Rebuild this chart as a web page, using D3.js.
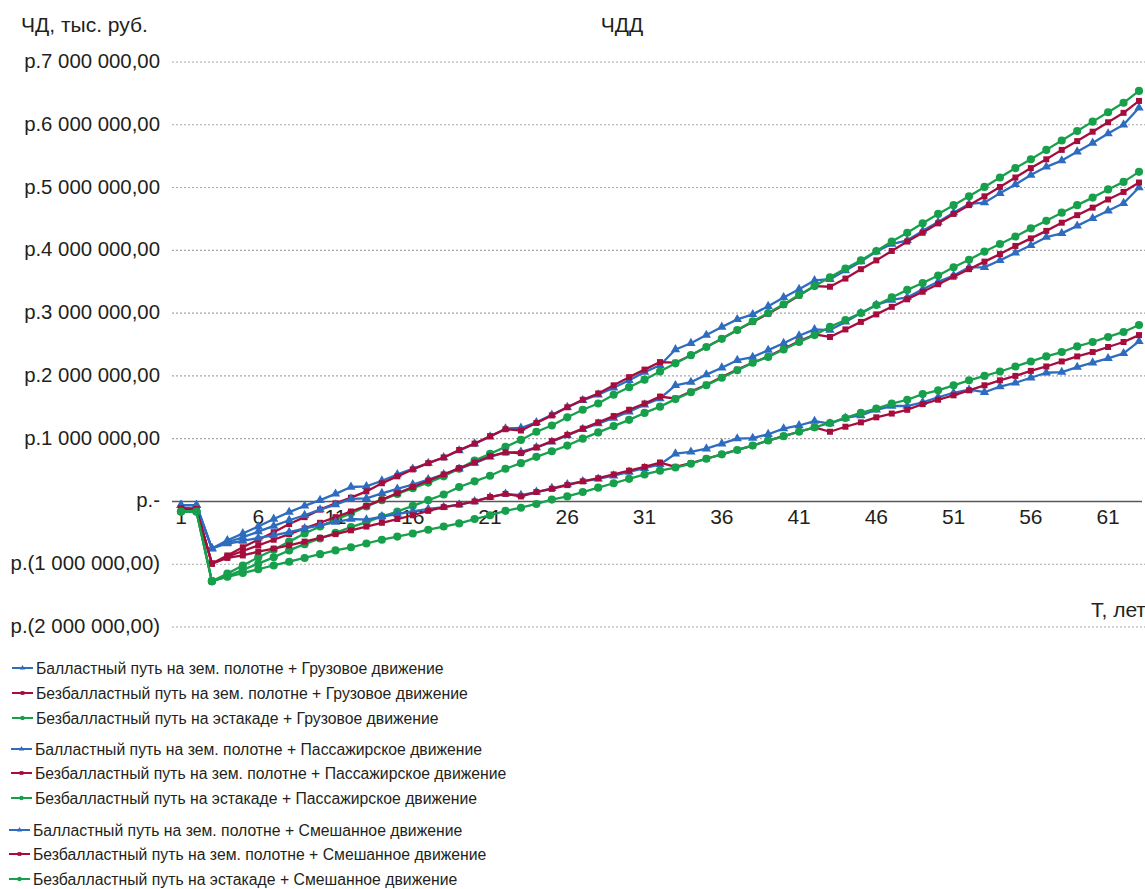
<!DOCTYPE html>
<html lang="ru">
<head>
<meta charset="utf-8">
<title>ЧДД</title>
<script src="https://cdn.jsdelivr.net/npm/d3@7"></script>
<style>
  html, body { margin: 0; padding: 0; background: #ffffff; }
  svg { display: block; }
</style>
</head>
<body>
<div id="chart"></div>
<script>
// values in millions of rubles, years 1..63
const years = d3.range(1, 64);
const xTicks = [1, 6, 11, 16, 21, 26, 31, 36, 41, 46, 51, 56, 61];
const yTicks = [-2, -1, 0, 1, 2, 3, 4, 5, 6, 7];

const freightBallast = [-0.06, -0.06, -0.75, -0.62, -0.51, -0.40, -0.28, -0.17, -0.07, 0.02, 0.12, 0.23, 0.24, 0.33, 0.43, 0.52, 0.61, 0.70, 0.81, 0.92, 1.03, 1.16, 1.17, 1.26, 1.38, 1.50, 1.61, 1.70, 1.81, 1.93, 2.06, 2.17, 2.42, 2.52, 2.65, 2.78, 2.90, 2.98, 3.11, 3.25, 3.38, 3.52, 3.54, 3.68, 3.82, 3.98, 4.10, 4.16, 4.31, 4.45, 4.60, 4.74, 4.76, 4.91, 5.05, 5.20, 5.33, 5.43, 5.57, 5.71, 5.86, 6.00, 6.27];
const freightSlab = [-0.11, -0.12, -0.99, -0.86, -0.73, -0.61, -0.49, -0.36, -0.25, -0.13, -0.03, 0.06, 0.16, 0.29, 0.40, 0.51, 0.61, 0.70, 0.82, 0.92, 1.04, 1.15, 1.13, 1.25, 1.37, 1.50, 1.62, 1.72, 1.85, 1.98, 2.10, 2.22, 2.21, 2.33, 2.46, 2.59, 2.73, 2.86, 2.99, 3.13, 3.28, 3.43, 3.42, 3.55, 3.70, 3.84, 3.99, 4.14, 4.28, 4.43, 4.58, 4.72, 4.86, 5.01, 5.16, 5.31, 5.45, 5.60, 5.74, 5.89, 6.04, 6.19, 6.38];
const freightViaduct = [-0.16, -0.16, -1.27, -1.15, -1.02, -0.89, -0.77, -0.64, -0.51, -0.40, -0.29, -0.19, -0.08, 0.02, 0.12, 0.21, 0.30, 0.40, 0.52, 0.65, 0.76, 0.87, 0.98, 1.11, 1.21, 1.34, 1.46, 1.56, 1.70, 1.82, 1.94, 2.07, 2.20, 2.33, 2.46, 2.59, 2.73, 2.87, 3.00, 3.14, 3.29, 3.43, 3.57, 3.71, 3.84, 3.99, 4.14, 4.28, 4.43, 4.58, 4.72, 4.86, 5.01, 5.16, 5.31, 5.45, 5.60, 5.75, 5.90, 6.05, 6.20, 6.35, 6.54];

const passBallast = [-0.06, -0.06, -0.75, -0.65, -0.57, -0.48, -0.39, -0.30, -0.22, -0.13, -0.05, 0.04, 0.05, 0.13, 0.20, 0.27, 0.35, 0.43, 0.52, 0.61, 0.71, 0.78, 0.79, 0.86, 0.95, 1.05, 1.15, 1.24, 1.33, 1.43, 1.54, 1.64, 1.85, 1.90, 2.02, 2.13, 2.25, 2.30, 2.41, 2.52, 2.64, 2.74, 2.73, 2.86, 3.00, 3.13, 3.21, 3.25, 3.38, 3.50, 3.60, 3.73, 3.73, 3.84, 3.96, 4.08, 4.21, 4.27, 4.39, 4.51, 4.63, 4.75, 5.00];
const passSlab = [-0.11, -0.12, -0.99, -0.88, -0.79, -0.70, -0.61, -0.52, -0.43, -0.34, -0.25, -0.16, -0.07, 0.03, 0.13, 0.23, 0.33, 0.43, 0.53, 0.62, 0.72, 0.78, 0.77, 0.86, 0.96, 1.06, 1.16, 1.26, 1.36, 1.46, 1.56, 1.67, 1.64, 1.75, 1.86, 1.98, 2.10, 2.21, 2.31, 2.43, 2.55, 2.66, 2.62, 2.74, 2.86, 2.98, 3.10, 3.22, 3.34, 3.46, 3.58, 3.70, 3.82, 3.94, 4.07, 4.19, 4.31, 4.44, 4.56, 4.68, 4.81, 4.93, 5.08];
const passViaduct = [-0.16, -0.16, -1.27, -1.19, -1.09, -0.99, -0.89, -0.78, -0.68, -0.59, -0.50, -0.41, -0.33, -0.24, -0.16, -0.07, 0.02, 0.11, 0.23, 0.32, 0.41, 0.52, 0.61, 0.71, 0.80, 0.89, 1.00, 1.10, 1.20, 1.30, 1.41, 1.51, 1.63, 1.74, 1.85, 1.97, 2.09, 2.21, 2.30, 2.42, 2.54, 2.65, 2.78, 2.89, 3.00, 3.13, 3.25, 3.37, 3.48, 3.60, 3.73, 3.85, 3.98, 4.10, 4.22, 4.35, 4.47, 4.60, 4.72, 4.84, 4.97, 5.09, 5.25];

const mixBallast = [-0.06, -0.06, -0.75, -0.67, -0.63, -0.58, -0.54, -0.49, -0.43, -0.38, -0.33, -0.28, -0.29, -0.24, -0.20, -0.16, -0.12, -0.09, -0.05, 0.00, 0.07, 0.12, 0.10, 0.15, 0.21, 0.27, 0.32, 0.36, 0.41, 0.47, 0.53, 0.59, 0.76, 0.79, 0.84, 0.92, 1.00, 1.01, 1.07, 1.16, 1.21, 1.28, 1.24, 1.33, 1.37, 1.46, 1.52, 1.52, 1.58, 1.66, 1.73, 1.78, 1.74, 1.83, 1.89, 1.97, 2.05, 2.06, 2.14, 2.21, 2.28, 2.36, 2.55];
const mixSlab = [-0.11, -0.12, -0.99, -0.90, -0.86, -0.80, -0.75, -0.70, -0.64, -0.58, -0.52, -0.46, -0.40, -0.34, -0.28, -0.22, -0.15, -0.09, -0.05, 0.00, 0.07, 0.12, 0.08, 0.15, 0.20, 0.26, 0.32, 0.37, 0.43, 0.49, 0.55, 0.62, 0.55, 0.61, 0.68, 0.75, 0.82, 0.89, 0.97, 1.04, 1.11, 1.18, 1.11, 1.19, 1.26, 1.34, 1.40, 1.46, 1.55, 1.62, 1.69, 1.77, 1.85, 1.93, 2.00, 2.08, 2.15, 2.23, 2.31, 2.38, 2.46, 2.54, 2.65];
const mixViaduct = [-0.16, -0.16, -1.27, -1.20, -1.14, -1.08, -1.02, -0.96, -0.90, -0.84, -0.78, -0.73, -0.67, -0.61, -0.56, -0.51, -0.45, -0.40, -0.35, -0.28, -0.22, -0.15, -0.10, -0.04, 0.03, 0.08, 0.15, 0.22, 0.29, 0.36, 0.43, 0.49, 0.54, 0.60, 0.68, 0.75, 0.82, 0.89, 0.97, 1.04, 1.11, 1.18, 1.25, 1.33, 1.41, 1.48, 1.56, 1.62, 1.71, 1.77, 1.85, 1.93, 2.00, 2.07, 2.15, 2.23, 2.31, 2.38, 2.47, 2.54, 2.62, 2.70, 2.81];

const trackNames = ["Балластный путь на зем. полотне", "Безбалластный путь на зем. полотне", "Безбалластный путь на эстакаде"];
const trafficNames = ["Грузовое движение", "Пассажирское движение", "Смешанное движение"];

const FONT = '"Liberation Sans", Arial, sans-serif';
const TEXT_COLOR = "#231f20";
const COLORS = ["#2d6cbf", "#a50d3d", "#17a04c"];
const SYMBOLS = [d3.symbolTriangle, d3.symbolSquare, d3.symbolCircle];
const MARKER_SIZE = [38, 36, 52];
const LEGEND_MARKER_SIZE = [12, 14, 16];

const series = [
  { values: freightBallast, track: 0, traffic: 0 },
  { values: freightSlab, track: 1, traffic: 0 },
  { values: freightViaduct, track: 2, traffic: 0 },
  { values: passBallast, track: 0, traffic: 1 },
  { values: passSlab, track: 1, traffic: 1 },
  { values: passViaduct, track: 2, traffic: 1 },
  { values: mixBallast, track: 0, traffic: 2 },
  { values: mixSlab, track: 1, traffic: 2 },
  { values: mixViaduct, track: 2, traffic: 2 },
];

const WIDTH = 1145;
const HEIGHT = 889;
const PLOT = { left: 172, right: 1145, top: 62, bottom: 627 };

const rub = d3.formatLocale({ decimal: ",", thousands: " ", grouping: [3], currency: ["", ""] }).format(",.2f");
function rubLabel(v) {
  if (v === 0) return "р.-";
  if (v < 0) return `р.(${rub(-v * 1e6)})`;
  return `р.${rub(v * 1e6)}`;
}

// scale a text group so that its reference node is as wide as in the source picture
function fitWidth(sel, refNode, targetWidth, baseSize) {
  const w = refNode.getComputedTextLength();
  const size = w > 0 ? (baseSize * targetWidth) / w : baseSize;
  sel.attr("font-size", Math.min(size, baseSize * 1.2));
}

const svg = d3
  .select("#chart")
  .append("svg")
  .attr("width", WIDTH)
  .attr("height", HEIGHT)
  .attr("viewBox", `0 0 ${WIDTH} ${HEIGHT}`)
  .attr("font-family", FONT)
  .attr("fill", TEXT_COLOR);

const x = d3.scalePoint().domain(years).range([181, 1139]);
const y = d3.scaleLinear().domain([-2, 7]).range([PLOT.bottom, PLOT.top]);

// gridlines
svg
  .append("g")
  .attr("class", "grid")
  .selectAll("line")
  .data(yTicks.filter((d) => d !== 0))
  .join("line")
  .attr("x1", PLOT.left)
  .attr("x2", PLOT.right)
  .attr("y1", (d) => y(d))
  .attr("y2", (d) => y(d))
  .attr("stroke", "#a6a6a6")
  .attr("stroke-width", 1.1)
  .attr("stroke-dasharray", "2,2");

// y labels
const yLabels = svg
  .append("g")
  .attr("class", "y-labels")
  .selectAll("text")
  .data(yTicks)
  .join("text")
  .attr("x", 160)
  .attr("y", (d) => y(d) + 6)
  .attr("text-anchor", "end")
  .attr("font-size", 20)
  .text(rubLabel);
fitWidth(yLabels, yLabels.filter((d) => d === 7).node(), 136, 20);

// zero axis
svg
  .append("line")
  .attr("x1", PLOT.left)
  .attr("x2", 1142)
  .attr("y1", y(0))
  .attr("y2", y(0))
  .attr("stroke", "#595959")
  .attr("stroke-width", 1.6);

// x labels
svg
  .append("g")
  .attr("class", "x-labels")
  .selectAll("text")
  .data(xTicks)
  .join("text")
  .attr("x", (d) => x(d))
  .attr("y", y(0) + 23)
  .attr("text-anchor", "middle")
  .attr("font-size", 21)
  .text((d) => d);

// titles
const yTitle = svg.append("text").attr("x", 21).attr("y", 32).attr("font-size", 20).text("ЧД, тыс. руб.");
fitWidth(yTitle, yTitle.node(), 127, 20);
svg.append("text").attr("x", 622).attr("y", 32).attr("text-anchor", "middle").attr("font-size", 21).text("ЧДД");
svg.append("text").attr("x", 1146).attr("y", 617).attr("text-anchor", "end").attr("font-size", 21).text("Т, лет");

// lines and markers
const line = d3
  .line()
  .x((d, i) => x(years[i]))
  .y((d) => y(d));

const seriesG = svg
  .append("g")
  .attr("class", "series")
  .selectAll("g")
  .data(series)
  .join("g");

seriesG
  .append("path")
  .attr("d", (s) => line(s.values))
  .attr("fill", "none")
  .attr("stroke", (s) => COLORS[s.track])
  .attr("stroke-width", 2.3)
  .attr("stroke-linejoin", "round");

seriesG
  .selectAll("path.marker")
  .data((s) => s.values.map((v, i) => ({ v, year: years[i], track: s.track })))
  .join("path")
  .attr("class", "marker")
  .attr("transform", (d) => `translate(${x(d.year)},${y(d.v)})`)
  .attr("d", (d) => d3.symbol(SYMBOLS[d.track], MARKER_SIZE[d.track])())
  .attr("fill", (d) => COLORS[d.track]);

// legend
const legendRows = [668, 693, 718, 749, 773, 798, 830, 854, 879];
const legendShift = [0, -1, -3];

const legend = svg
  .append("g")
  .attr("class", "legend")
  .selectAll("g")
  .data(series)
  .join("g")
  .attr("transform", (s, i) => `translate(${12 + legendShift[s.traffic]},${legendRows[i]})`);

legend
  .append("line")
  .attr("x1", 0)
  .attr("x2", 21)
  .attr("stroke", (s) => COLORS[s.track])
  .attr("stroke-width", 2);

legend
  .append("path")
  .attr("transform", "translate(10.5,0)")
  .attr("d", (s) => d3.symbol(SYMBOLS[s.track], LEGEND_MARKER_SIZE[s.track])())
  .attr("fill", (s) => COLORS[s.track]);

const legendText = legend
  .append("text")
  .attr("x", 24)
  .attr("y", 6)
  .attr("font-size", 20)
  .text((s) => `${trackNames[s.track]} + ${trafficNames[s.traffic]}`);
fitWidth(legendText, legendText.node(), 408, 20);
</script>
</body>
</html>
